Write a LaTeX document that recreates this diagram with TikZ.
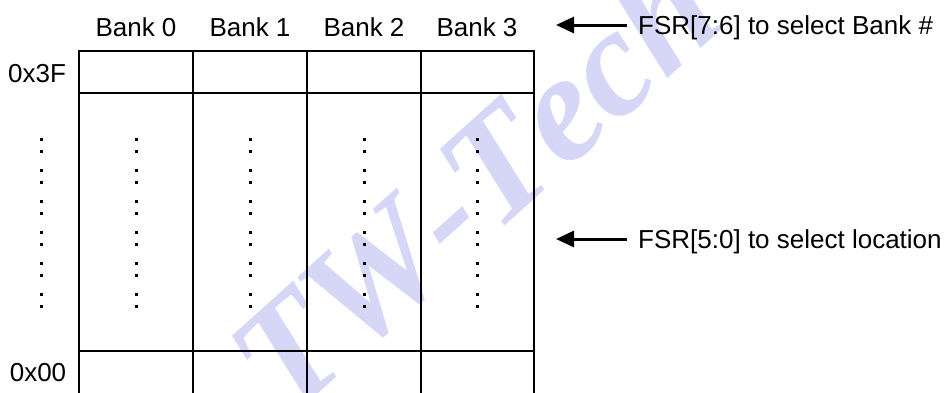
\documentclass[tikz,border=0pt]{standalone}
\usepackage{fontspec}
\setmainfont{Liberation Sans}
\newfontfamily\wmfont[Kerning=Off]{Liberation Serif}
\usetikzlibrary{arrows.meta}
\definecolor{wmblue}{RGB}{214,214,247}
\begin{document}
\begin{tikzpicture}[x=1pt,y=-1pt,
  gridline/.style={line width=2pt},
  lbl/.style={font=\fontsize{26}{30}\selectfont, inner sep=0pt, anchor=base},
  sidelbl/.style={font=\fontsize{26}{30}\selectfont, inner sep=0pt, anchor=base west},
  arr/.style={line width=3pt, -{Triangle[length=18pt,width=16pt]}},
  wmark/.style={rotate=42, anchor=base west, text=wmblue, inner sep=0pt,
    font=\wmfont\bfseries\itshape\fontsize{153}{153}\selectfont}]
\useasboundingbox (0,0) rectangle (944,392);
\clip (0,0) rectangle (944,392);
\fill[white] (0,0) rectangle (944,392);
% watermark
\node[wmark] (wm) at (287,422) {TW-Tech};
% grid
\draw[gridline] (79,400) -- (79,51) -- (534,51) -- (534,400);
\foreach \x in {193,307,421} \draw[gridline] (\x,51) -- (\x,400);
\draw[gridline] (79,93) -- (534,93);
\draw[gridline] (79,351) -- (534,351);
% dots
\foreach \cx in {41,136,250,364,477}{
  \foreach \k in {0,...,5}{
    \fill ({\cx-1.5},{137.5+31*\k}) rectangle ++(3,3);
    \fill ({\cx-1.5},{149.5+31*\k}) rectangle ++(3,3);
  }
}
% labels
\node[lbl] (b0) at (136,36) {Bank 0};
\node[lbl] (b1) at (250,36) {Bank 1};
\node[lbl] (b2) at (364,36) {Bank 2};
\node[lbl] (b3) at (477,36) {Bank 3};
\node[lbl] (a3f) at (37,82) {0x3F};
\node[lbl] (a00) at (38,381) {0x00};
\node[sidelbl] (fsrb) at (638,34) {FSR[7:6] to select Bank \#};
\node[sidelbl] (fsrl) at (638,248) {FSR[5:0] to select location};
% arrows
\coordinate (tipb) at (556,25);
\coordinate (tipl) at (556,239);
\draw[arr] ([xshift=-11pt]fsrb.base west |- tipb) -- (tipb);
\draw[arr] ([xshift=-11pt]fsrl.base west |- tipl) -- (tipl);
\end{tikzpicture}
\end{document}
